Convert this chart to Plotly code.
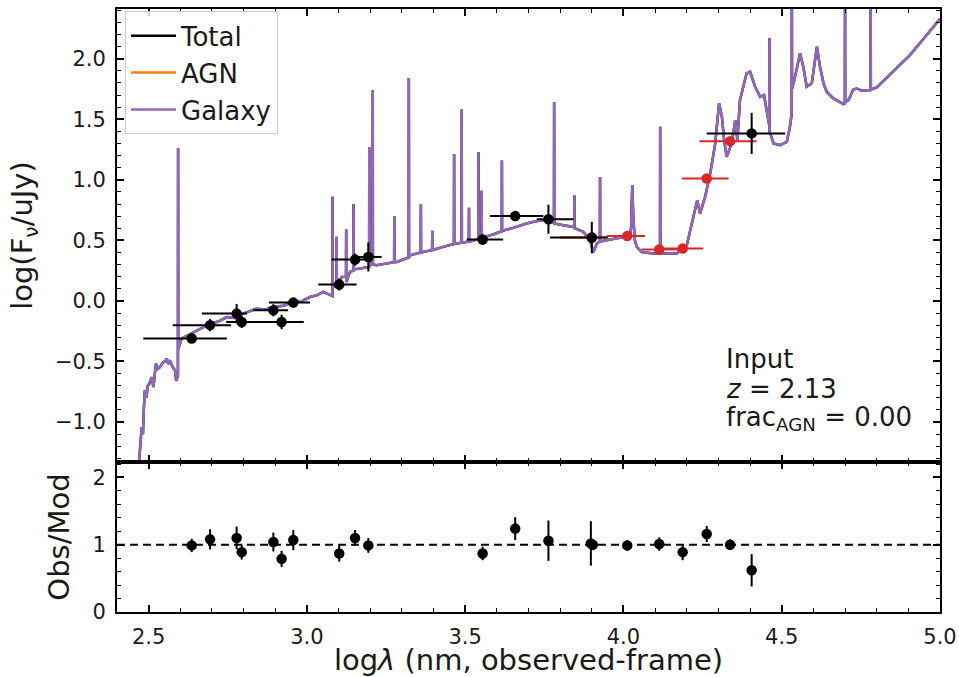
import plotly.graph_objects as go

FONT = "DejaVu Sans"

# ---- model SED: log wavelength (nm, observed) vs log F_nu (uJy) ----
sed_logwl = [
    2.456, 2.470, 2.478, 2.482, 2.485, 2.488, 2.493, 2.497, 2.502, 2.510,
    2.515, 2.519, 2.523, 2.530, 2.536, 2.546, 2.552, 2.557, 2.562, 2.567,
    2.576, 2.583, 2.587, 2.5925, 2.5930, 2.5935, 2.604, 2.620, 2.652, 2.694,
    2.720, 2.747, 2.770, 2.799, 2.841, 2.870, 2.894, 2.925, 2.957, 2.985,
    3.010, 3.031, 3.052, 3.075, 3.0805, 3.0810, 3.0815, 3.086, 3.0935, 3.0940,
    3.0945, 3.103, 3.110, 3.1235, 3.1240, 3.1245, 3.136, 3.1465, 3.1470, 3.1475,
    3.168, 3.1965, 3.1970, 3.1975, 3.2075, 3.2080, 3.2085, 3.220, 3.250, 3.2755,
    3.2760, 3.2765, 3.284, 3.305, 3.3215, 3.3220, 3.3225, 3.326, 3.345, 3.3595,
    3.3600, 3.3605, 3.3955, 3.3960, 3.3965, 3.431, 3.4645, 3.4650, 3.4655, 3.4885,
    3.4890, 3.4895, 3.5115, 3.5120, 3.5125, 3.5415, 3.5420, 3.5425, 3.5515, 3.5520,
    3.5525, 3.590, 3.6155, 3.6160, 3.6165, 3.642, 3.694, 3.737, 3.758, 3.7805,
    3.7810, 3.7815, 3.810, 3.8445, 3.8450, 3.8455, 3.873, 3.894, 3.905, 3.916,
    3.9255, 3.9260, 3.9265, 3.947, 4.000, 4.020, 4.024, 4.026, 4.028, 4.031,
    4.036, 4.042, 4.058, 4.094, 4.1155, 4.1160, 4.1165, 4.147, 4.168, 4.200,
    4.221, 4.233, 4.242, 4.258, 4.274, 4.290, 4.302, 4.311, 4.318, 4.326,
    4.342, 4.353, 4.360, 4.368, 4.389, 4.400, 4.416, 4.432, 4.444, 4.453,
    4.4605, 4.4610, 4.4615, 4.474, 4.495, 4.516, 4.526, 4.5315, 4.5320, 4.5325,
    4.542, 4.558, 4.568, 4.579, 4.595, 4.611, 4.621, 4.632, 4.642, 4.663,
    4.695, 4.6995, 4.7000, 4.7005, 4.711, 4.726, 4.737, 4.753, 4.7805, 4.7810,
    4.7815, 4.800, 4.850, 4.905, 4.950, 5.000,
]
sed_logfnu = [
    -1.60, -1.317, -1.042, -1.10, -0.877, -0.739, -0.80, -0.70, -0.684, -0.629,
    -0.711, -0.58, -0.518, -0.56, -0.546, -0.505, -0.50, -0.477, -0.52, -0.491,
    -0.546, -0.573, -0.66, -0.62, 1.26, -0.40, -0.311, -0.29, -0.243, -0.188,
    -0.17, -0.133, -0.14, -0.105, -0.064, -0.07, -0.05, -0.04, -0.009, 0.0,
    0.032, 0.046, 0.074, 0.046, 0.04, 0.86, 0.10, 0.143, 0.15, 0.53,
    0.18, 0.16, 0.198, 0.20, 0.59, 0.156, 0.239, 0.25, 0.80, 0.26,
    0.267, 0.28, 1.27, 0.30, 0.30, 1.74, 0.30, 0.294, 0.31, 0.32,
    0.70, 0.32, 0.322, 0.34, 0.36, 1.84, 0.36, 0.377, 0.39, 0.40,
    0.80, 0.40, 0.42, 0.58, 0.42, 0.446, 0.47, 1.21, 0.47, 0.48,
    1.58, 0.48, 0.49, 0.77, 0.49, 0.51, 1.23, 0.51, 0.515, 0.91,
    0.52, 0.55, 0.575, 1.16, 0.58, 0.595, 0.639, 0.666, 0.666, 0.645,
    1.64, 0.64, 0.625, 0.61, 0.87, 0.60, 0.570, 0.501, 0.404, 0.474,
    0.49, 1.02, 0.49, 0.501, 0.528, 0.52, 0.60, 0.80, 0.955, 0.70,
    0.50, 0.446, 0.404, 0.391, 0.391, 1.437, 0.391, 0.391, 0.391, 0.46,
    0.693, 0.831, 0.722, 0.859, 1.052, 1.30, 1.631, 1.52, 1.327, 1.19,
    1.30, 1.493, 1.327, 1.658, 1.879, 1.892, 1.768, 1.685, 1.699, 1.575,
    1.45, 2.168, 1.40, 1.30, 1.286, 1.313, 1.437, 1.55, 2.60, 1.75,
    1.85, 2.044, 1.933, 1.768, 1.796, 2.098, 1.933, 1.796, 1.727, 1.672,
    1.625, 1.63, 2.60, 1.64, 1.658, 1.746, 1.754, 1.735, 1.741, 2.60,
    1.745, 1.763, 1.89, 2.03, 2.17, 2.33,
]

# ---- photometry drawn in black ----
bb_logwl = [2.636, 2.694, 2.778, 2.794, 2.894, 2.920, 2.957, 3.102, 3.152, 3.194,
            3.555, 3.658, 3.763, 3.900, 4.405]
bb_logfnu = [-0.31, -0.20, -0.105, -0.174, -0.077, -0.174, -0.014, 0.135, 0.341, 0.363,
             0.507, 0.700, 0.674, 0.523, 1.383]
bb_err = [0.03, 0.05, 0.08, 0.05, 0.05, 0.06, 0.04, 0.05, 0.05, 0.12,
          0.04, 0.04, 0.12, 0.13, 0.17]
bb_lo = [2.483, 2.576, 2.668, 2.745, 2.830, 2.790, 2.880, 3.036, 3.078, 3.157,
         3.505, 3.578, 3.726, 3.768, 4.263]
bb_hi = [2.747, 2.760, 2.810, 2.845, 2.940, 2.990, 3.010, 3.157, 3.184, 3.236,
         3.620, 3.747, 3.842, 3.950, 4.511]

# ---- photometry drawn in red ----
rb_logwl = [3.900, 4.012, 4.113, 4.187, 4.263, 4.337]
rb_logfnu = [0.523, 0.536, 0.424, 0.432, 1.011, 1.319]
rb_err = [0.03, 0.03, 0.03, 0.03, 0.03, 0.03]
rb_lo = [3.800, 3.947, 4.058, 4.116, 4.184, 4.240]
rb_hi = [3.950, 4.068, 4.173, 4.252, 4.332, 4.420]

# ---- observed / model ratios ----
res_logwl = [2.636, 2.694, 2.778, 2.794, 2.894, 2.920, 2.957, 3.102, 3.152, 3.194,
             3.555, 3.658, 3.763, 3.897, 3.903, 4.012, 4.113, 4.187, 4.263, 4.337,
             4.405]
res_ratio = [0.99, 1.08, 1.10, 0.89, 1.04, 0.79, 1.07, 0.87, 1.10, 0.99,
             0.87, 1.24, 1.06, 1.02, 1.00, 0.99, 1.01, 0.89, 1.16, 1.00,
             0.62]
res_err = [0.10, 0.15, 0.17, 0.11, 0.14, 0.12, 0.15, 0.12, 0.12, 0.11,
           0.10, 0.17, 0.30, 0.33, 0.08, 0.08, 0.10, 0.12, 0.12, 0.08,
           0.24]

GAL_COLOR = "#9467bd"
AGN_COLOR = "#ff7f0e"
RED = "#d92626"
TXT = "#1a1a1a"

fig = go.Figure()

# model lines (total = galaxy here since the AGN fraction is zero)
fig.add_trace(go.Scatter(x=sed_logwl, y=sed_logfnu, mode="lines", name="Total",
                         line=dict(color="black", width=2.5), xaxis="x", yaxis="y"))
fig.add_trace(go.Scatter(x=[None], y=[None], mode="lines", name="AGN",
                         line=dict(color=AGN_COLOR, width=2.5), xaxis="x", yaxis="y"))
fig.add_trace(go.Scatter(x=sed_logwl, y=sed_logfnu, mode="lines", name="Galaxy",
                         line=dict(color=GAL_COLOR, width=2.5), xaxis="x", yaxis="y"))


def phot_trace(xs, ys, yerr, lo, hi, color, xa, ya):
    return go.Scatter(
        x=xs, y=ys, mode="markers", showlegend=False, xaxis=xa, yaxis=ya,
        marker=dict(color=color, size=10.5, line=dict(width=0)),
        error_x=dict(type="data", symmetric=False,
                     array=[h - x for h, x in zip(hi, xs)],
                     arrayminus=[x - l for x, l in zip(xs, lo)],
                     color=color, thickness=2, width=0),
        error_y=dict(type="data", array=yerr, color=color, thickness=2, width=0),
    )


fig.add_trace(phot_trace(rb_logwl, rb_logfnu, rb_err, rb_lo, rb_hi, RED, "x", "y"))
fig.add_trace(phot_trace(bb_logwl, bb_logfnu, bb_err, bb_lo, bb_hi, "black", "x", "y"))

# residual panel
fig.add_trace(go.Scatter(
    x=res_logwl, y=res_ratio, mode="markers", showlegend=False, xaxis="x2", yaxis="y2",
    marker=dict(color="black", size=10.5),
    error_y=dict(type="data", array=res_err, color="black", thickness=2, width=0),
))

fig.add_shape(type="line", xref="x2 domain", yref="y2", x0=0, x1=1, y0=1, y1=1,
              line=dict(color="black", width=2, dash="8px,5px"))

axis_common = dict(showline=True, linecolor="black", linewidth=1.8, mirror="allticks",
                   ticks="inside", ticklen=7, tickwidth=1.5, tickcolor="black",
                   showgrid=False, zeroline=False,
                   tickfont=dict(family=FONT, size=21, color=TXT))


def minor(step):
    return dict(ticks="inside", ticklen=4, tickwidth=1.2, tickcolor="black",
                dtick=step, showgrid=False)


split = 150 / 603

fig.update_layout(
    width=959, height=677,
    margin=dict(l=117, r=19, t=9, b=65, autoexpand=False),
    plot_bgcolor="white", paper_bgcolor="white",
    font=dict(family=FONT, size=21, color=TXT),
    xaxis=dict(axis_common, domain=[0, 1], anchor="y", range=[2.4, 5.0],
               dtick=0.5, tick0=2.5, minor=minor(0.1), showticklabels=False),
    yaxis=dict(axis_common, domain=[split, 1], anchor="x", range=[-1.33, 2.41],
               dtick=0.5, tick0=0, minor=minor(0.1), tickformat=".1f",
               ticklabelstandoff=5,
               title=dict(text="log(F<sub>ν</sub>/uJy)", standoff=14,
                          font=dict(family=FONT, size=29, color=TXT))),
    xaxis2=dict(axis_common, domain=[0, 1], anchor="y2", range=[2.4, 5.0],
                dtick=0.5, tick0=2.5, minor=minor(0.1), tickformat=".1f",
                ticklabelstandoff=5,
                title=dict(text="log<i>λ</i> (nm, observed-frame)", standoff=3,
                           font=dict(family=FONT, size=29, color=TXT))),
    yaxis2=dict(axis_common, domain=[0, split], anchor="x2", range=[0, 2.23],
                dtick=1, tick0=0, minor=minor(0.2), ticklabelstandoff=5,
                title=dict(text="Obs/Mod", standoff=14,
                           font=dict(family=FONT, size=29, color=TXT))),
    legend=dict(x=0.0097, y=0.996, xanchor="left", yanchor="top",
                itemwidth=45, tracegroupgap=0,
                bgcolor="rgba(255,255,255,0.8)", bordercolor="#cccccc", borderwidth=1,
                font=dict(family=FONT, size=26, color=TXT)),
    showlegend=True,
)

# fit summary text
info_lines = ["Input", "<i>z</i> = 2.13", "frac<sub>AGN</sub> = 0.00"]
info_y = [0.4196, 0.3698, 0.3215]
for txt, yy in zip(info_lines, info_y):
    fig.add_annotation(text=txt, xref="paper", yref="paper", x=0.738, y=yy,
                       xanchor="left", yanchor="middle", showarrow=False,
                       font=dict(family=FONT, size=26, color=TXT))

fig.write_html("out.html")
